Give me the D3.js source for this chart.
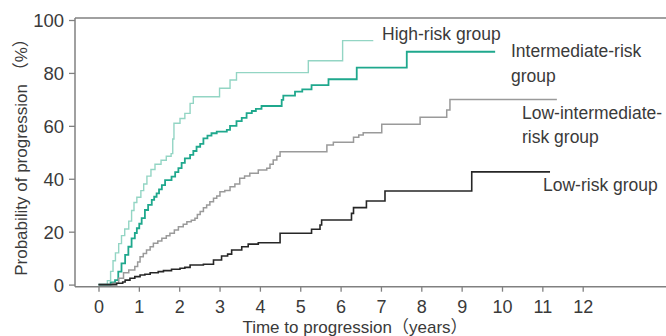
<!DOCTYPE html>
<html>
<head>
<meta charset="utf-8">
<script src="https://cdn.jsdelivr.net/npm/d3@7"></script>
<style>
  html, body { margin: 0; padding: 0; background: #fff; }
  svg text { font-family: "Liberation Sans", Arial, sans-serif; fill: #3a3a3a; }
  .title { font-family: "Liberation Sans", "Noto Sans CJK JP", sans-serif; }
</style>
</head>
<body>
<div id="chart"></div>
<script>
// cumulative probability of progression (%), step curves
const highTimes = [0, 0.22, 0.30, 0.36, 0.42, 0.50, 0.57, 0.65, 0.75, 0.82, 0.88, 0.95, 1.05, 1.12, 1.20, 1.30, 1.40, 1.55, 1.68, 1.80, 1.84, 1.87, 2.02, 2.14, 2.27, 2.35, 3.00, 3.26, 3.42, 5.20, 6.05, 6.81];
const highValues = [0, 1.5, 5, 9, 12, 15.5, 18.5, 21, 24, 28, 31, 33, 35.5, 38, 41, 43.5, 45.5, 47, 48.5, 49.5, 55, 61, 62.8, 64.7, 68.5, 71.0, 74.2, 77.3, 80.1, 84.6, 92.2, 92.2];

const interTimes = [0, 0.30, 0.41, 0.49, 0.57, 0.66, 0.74, 0.82, 0.90, 0.95, 1.01, 1.07, 1.15, 1.23, 1.32, 1.38, 1.44, 1.50, 1.57, 1.65, 1.81, 1.90, 1.98, 2.06, 2.14, 2.27, 2.35, 2.43, 2.52, 2.60, 2.70, 2.80, 2.93, 3.18, 3.26, 3.42, 3.55, 3.67, 3.80, 3.90, 4.04, 4.54, 4.58, 4.87, 5.05, 5.28, 5.70, 6.40, 7.64, 9.83];
const interValues = [0, 0.8, 1.7, 4.9, 8.0, 11.2, 14.3, 17.5, 19.5, 21.3, 23, 25.1, 28.2, 30.1, 32.0, 33.2, 34.5, 36, 37.6, 39.5, 40.8, 42.5, 44, 46, 47.7, 49.0, 50.5, 52.1, 53.2, 55.3, 56.3, 57.2, 57.8, 58.5, 60.0, 61.8, 63, 64.8, 65.6, 66.4, 67.5, 69.8, 71.4, 72.9, 73.8, 75.4, 77.6, 82.0, 88.0, 88.0];

const lowInterTimes = [0, 0.35, 0.50, 0.62, 0.75, 0.90, 0.97, 1.03, 1.11, 1.19, 1.28, 1.36, 1.47, 1.57, 1.68, 1.77, 1.88, 1.98, 2.10, 2.19, 2.30, 2.39, 2.45, 2.52, 2.60, 2.68, 2.76, 2.85, 2.93, 3.01, 3.13, 3.26, 3.38, 3.50, 3.62, 3.75, 3.96, 4.17, 4.25, 4.33, 4.42, 4.50, 5.66, 5.82, 6.32, 6.45, 6.56, 7.02, 7.97, 8.63, 8.71, 11.36];
const lowInterValues = [0, 0.5, 2.4, 4.5, 5.5, 6.8, 8.5, 10.5, 11.8, 13.1, 14.3, 15.6, 16.5, 17.5, 18.5, 19.4, 20.6, 21.9, 22.8, 23.8, 24.3, 25.1, 26.5, 27.6, 29.0, 30.1, 31.3, 32.6, 33.5, 35.1, 35.6, 37.0, 38.0, 40.2, 41.0, 42.1, 43.3, 44.0, 45.5, 47.1, 48.5, 50.2, 52.8, 53.8, 55.7, 56.5, 57.4, 60.6, 63.2, 66.0, 70.0, 70.0];

const lowTimes = [0, 0.45, 0.60, 0.66, 0.78, 0.90, 1.03, 1.15, 1.28, 1.48, 1.61, 1.81, 2.02, 2.14, 2.27, 2.60, 2.85, 3.05, 3.20, 3.30, 3.55, 3.71, 3.96, 4.50, 5.28, 5.49, 5.53, 6.27, 6.32, 6.64, 7.10, 9.25, 11.19];
const lowValues = [0, 0.5, 1.0, 1.7, 2.4, 3.0, 3.6, 3.9, 4.5, 4.9, 5.3, 5.8, 6.2, 6.5, 7.4, 7.7, 9.3, 10.8, 11.5, 13.1, 14.3, 15.3, 15.8, 19.4, 20.9, 22.5, 24.4, 26.9, 29.1, 31.6, 35.4, 42.6, 42.6];

const xTicks = [0, 1, 2, 3, 4, 5, 6, 7, 8, 9, 10, 11, 12];
const yTicks = [0, 20, 40, 60, 80, 100];

const groups = [
  { lines: ['High-risk group'], times: highTimes, values: highValues, color: '#93d5c4', width: 1.4, lx: 382, ly: [34] },
  { lines: ['Intermediate-risk', 'group'], times: interTimes, values: interValues, color: '#1fa88d', width: 1.8, lx: 511, ly: [51, 76] },
  { lines: ['Low-intermediate-', 'risk group'], times: lowInterTimes, values: lowInterValues, color: '#9a9a9a', width: 1.5, lx: 522, ly: [113, 137] },
  { lines: ['Low-risk group'], times: lowTimes, values: lowValues, color: '#262626', width: 1.6, lx: 543, ly: [185] }
];

const W = 666, H = 336;
const svg = d3.select('#chart').append('svg')
  .attr('width', W)
  .attr('height', H);

const x = d3.scaleLinear().domain([0, 12]).range([98.5, 582.7]);
const y = d3.scaleLinear().domain([0, 100]).range([284.6, 20]);

const x0 = 75, yBase = 286.7, yTop = 18;
const axisColor = '#808080';

// frame: top line, left axis, bottom axis
svg.append('line').attr('x1', x0).attr('x2', W).attr('y1', yTop).attr('y2', yTop)
  .attr('stroke', axisColor).attr('stroke-width', 1.5);
svg.append('line').attr('x1', x0).attr('x2', x0).attr('y1', yTop).attr('y2', yBase)
  .attr('stroke', axisColor).attr('stroke-width', 1.5);
svg.append('line').attr('x1', x0).attr('x2', W).attr('y1', yBase).attr('y2', yBase)
  .attr('stroke', axisColor).attr('stroke-width', 1.5);

// Y axis
const yAxis = svg.append('g')
  .attr('transform', 'translate(' + x0 + ',0)')
  .call(d3.axisLeft(y).tickValues(yTicks).tickSize(6).tickPadding(5));
yAxis.select('.domain').remove();
yAxis.selectAll('.tick line').attr('stroke', axisColor).attr('stroke-width', 1.3);
yAxis.selectAll('.tick text').attr('font-size', 18.5).attr('dy', '0.35em')
  .attr('font-family', '"Liberation Sans", Arial, sans-serif').attr('fill', '#3a3a3a');

// X axis
const xAxis = svg.append('g')
  .attr('transform', 'translate(0,' + yBase + ')')
  .call(d3.axisBottom(x).tickValues(xTicks).tickSize(5).tickPadding(9));
xAxis.select('.domain').remove();
xAxis.selectAll('.tick line').attr('stroke', axisColor).attr('stroke-width', 1.3);
xAxis.selectAll('.tick text').attr('font-size', 18)
  .attr('font-family', '"Liberation Sans", Arial, sans-serif').attr('fill', '#3a3a3a');

// step curves
const line = d3.line()
  .curve(d3.curveStepAfter)
  .x(d => x(d[0]))
  .y(d => y(d[1]));

groups.forEach(g => {
  const pts = g.times.map((t, i) => [t, g.values[i]]);
  svg.append('path')
    .datum(pts)
    .attr('fill', 'none')
    .attr('stroke', g.color)
    .attr('stroke-width', g.width)
    .attr('d', line);

  const label = svg.append('text')
    .attr('x', g.lx)
    .attr('font-size', 17.5);
  g.lines.forEach((s, i) => {
    label.append('tspan').attr('x', g.lx).attr('y', g.ly[i]).attr('dy', '0.35em').text(s);
  });
});

// axis titles
svg.append('text')
  .attr('class', 'title')
  .attr('transform', 'translate(21,153) rotate(-90)')
  .attr('text-anchor', 'middle')
  .attr('dy', '0.35em')
  .attr('font-size', 17)
  .text('Probability of progression （%）');

svg.append('text')
  .attr('class', 'title')
  .attr('x', 355)
  .attr('y', 333)
  .attr('text-anchor', 'middle')
  .attr('font-size', 17)
  .text('Time to progression（years）');
</script>
</body>
</html>
